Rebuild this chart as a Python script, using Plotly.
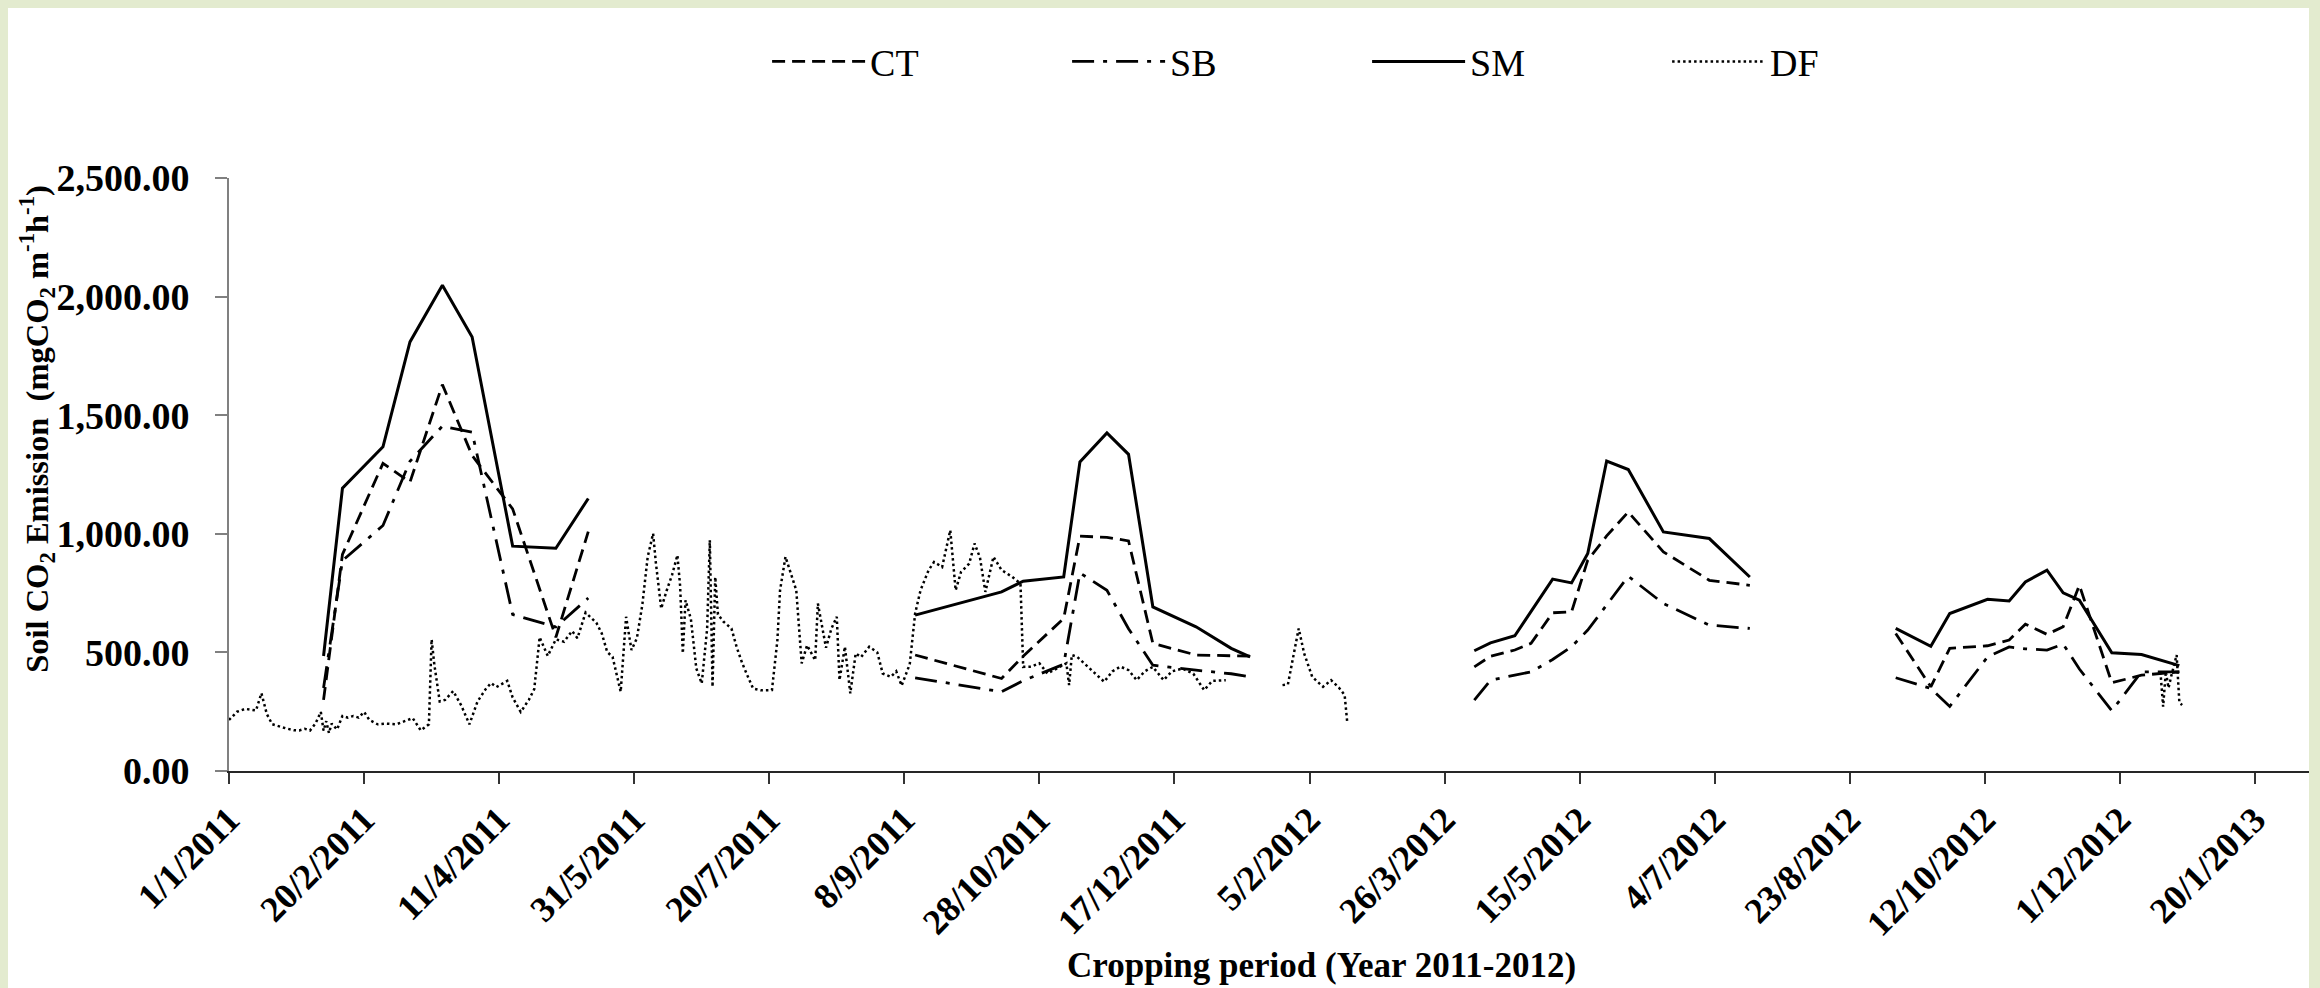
import plotly.graph_objects as go

# ---------------- data ----------------
# Season sampling dates shared by CT, SB and SM
s1_dates = ["2011-02-05", "2011-02-12", "2011-02-27", "2011-03-09", "2011-03-21",
            "2011-04-01", "2011-04-16", "2011-05-02", "2011-05-14"]
s1_ct = [300, 913, 1297, 1218, 1629, 1330, 1105, 564, 1009]
s1_sb = [350, 887, 1035, 1306, 1454, 1428, 660, 607, 729]
s1_sm = [485, 1192, 1367, 1809, 2048, 1830, 948, 939, 1149]

s2_dates = ["2011-09-12", "2011-10-14", "2011-10-22", "2011-11-06", "2011-11-12",
            "2011-11-22", "2011-11-30", "2011-12-09", "2011-12-25", "2012-01-07",
            "2012-01-14"]
s2_ct = [489, 390, 484, 643, 990, 985, 970, 538, 489, 486, 484]
s2_sb = [393, 334, 381, 450, 835, 762, 600, 446, 425, 410, 397]
s2_sm = [657, 755, 800, 818, 1303, 1425, 1335, 692, 608, 517, 481]

s3_dates = ["2012-04-06", "2012-04-12", "2012-04-21", "2012-04-27", "2012-05-05",
            "2012-05-12", "2012-05-18", "2012-05-25", "2012-06-02", "2012-06-15",
            "2012-07-02", "2012-07-17"]
s3_ct = [439, 484, 510, 538, 667, 671, 889, 991, 1092, 924, 804, 783]
s3_sb = [299, 383, 404, 418, 470, 524, 594, 700, 821, 706, 615, 601]
s3_sm = [507, 540, 570, 672, 809, 793, 917, 1307, 1271, 1008, 980, 818]

s4_dates = ["2012-09-09", "2012-09-22", "2012-09-29", "2012-10-13", "2012-10-21",
            "2012-10-27", "2012-11-04", "2012-11-10", "2012-11-16", "2012-11-28",
            "2012-12-09", "2012-12-23"]
s4_ct = [580, 355, 517, 528, 552, 619, 576, 608, 783, 372, 404, 418]
s4_sb = [393, 348, 272, 481, 523, 515, 510, 535, 430, 254, 418, 418]
s4_sm = [601, 526, 664, 724, 717, 797, 847, 751, 720, 498, 491, 444]

# DF (daily record), None marks the breaks in the record
df_dates = [
    "2011-01-01", "2011-01-04", "2011-01-07", "2011-01-11", "2011-01-13", "2011-01-15",
    "2011-01-17", "2011-01-20", "2011-01-22", "2011-01-25", "2011-01-27", "2011-01-29",
    "2011-01-31", "2011-02-02", "2011-02-04", "2011-02-05", "2011-02-06", "2011-02-07",
    "2011-02-08", "2011-02-10", "2011-02-12", "2011-02-14", "2011-02-16", "2011-02-18",
    "2011-02-20", "2011-02-22", "2011-02-25", "2011-02-28", "2011-03-04", "2011-03-07",
    "2011-03-10", "2011-03-13", "2011-03-16", "2011-03-17", "2011-03-18", "2011-03-20",
    "2011-03-22", "2011-03-25", "2011-03-28", "2011-03-31", "2011-04-03", "2011-04-06",
    "2011-04-08", "2011-04-10", "2011-04-14", "2011-04-16", "2011-04-19", "2011-04-22",
    "2011-04-24", "2011-04-26", "2011-04-29", "2011-05-02", "2011-05-05", "2011-05-08",
    "2011-05-10", "2011-05-13", "2011-05-17", "2011-05-19", "2011-05-21", "2011-05-23",
    "2011-05-26", "2011-05-28", "2011-05-30", "2011-06-01", "2011-06-03", "2011-06-05",
    "2011-06-07", "2011-06-08", "2011-06-10", "2011-06-12", "2011-06-14", "2011-06-16",
    "2011-06-17", "2011-06-18", "2011-06-19", "2011-06-21", "2011-06-23", "2011-06-25",
    "2011-06-27", "2011-06-28", "2011-06-29", "2011-06-30", "2011-07-01", "2011-07-03",
    "2011-07-06", "2011-07-08", "2011-07-10", "2011-07-12", "2011-07-14", "2011-07-17",
    "2011-07-21", "2011-07-23", "2011-07-24", "2011-07-26", "2011-07-28", "2011-07-30",
    "2011-08-01", "2011-08-03", "2011-08-06", "2011-08-07", "2011-08-10", "2011-08-12",
    "2011-08-14", "2011-08-15", "2011-08-17", "2011-08-19", "2011-08-21", "2011-08-23",
    "2011-08-26", "2011-08-29", "2011-08-31", "2011-09-03", "2011-09-05", "2011-09-07",
    "2011-09-10", "2011-09-12", "2011-09-14", "2011-09-17", "2011-09-19", "2011-09-22",
    "2011-09-25", "2011-09-27", "2011-09-29", "2011-10-02", "2011-10-04", "2011-10-06",
    "2011-10-08", "2011-10-11", "2011-10-14", "2011-10-18", "2011-10-21", "2011-10-22",
    "2011-10-25", "2011-10-28", "2011-10-31", "2011-11-03", "2011-11-07", "2011-11-08",
    "2011-11-09", "2011-11-11", "2011-11-13", "2011-11-15", "2011-11-18", "2011-11-21",
    "2011-11-24", "2011-11-27", "2011-11-30", "2011-12-03", "2011-12-06", "2011-12-09",
    "2011-12-13", "2011-12-16", "2011-12-20", "2011-12-24", "2011-12-28", "2011-12-31",
    "2012-01-05", "2012-01-15", "2012-01-26", "2012-01-28", "2012-02-01", "2012-02-03",
    "2012-02-06", "2012-02-10", "2012-02-13", "2012-02-16", "2012-02-18", "2012-02-19",
    "2012-06-01", "2012-12-16", "2012-12-17", "2012-12-18", "2012-12-19", "2012-12-20",
    "2012-12-21", "2012-12-22", "2012-12-23", "2012-12-24",
]
df_values = [
    215, 250, 262, 255, 328, 240,
    197, 185, 180, 172, 171, 178,
    171, 200, 249, 170, 210, 160,
    200, 175, 232, 225, 232, 225,
    249, 215, 197, 200, 197, 210,
    223, 171, 197, 555, 450, 293,
    300, 337, 276, 197, 293, 345,
    371, 354, 380, 310, 249, 300,
    345, 564, 485, 555, 545, 590,
    560, 668, 625, 580, 502, 481,
    334, 650, 510, 560, 700, 903,
    1001, 880, 685, 760, 826, 910,
    780, 496, 720, 640, 432, 369,
    600, 973, 355, 818, 660, 630,
    601, 520, 454, 400, 348, 340,
    341, 550, 762, 903, 830, 762,
    454, 530, 467, 706, 520, 600,
    650, 383, 524, 327, 496, 480,
    524, 500, 411, 397, 420, 360,
    450, 664, 762, 847, 881, 860,
    1015, 762, 839, 874, 959, 900,
    755, 903, 847, 818, 790, 439,
    440, 454, 411, 430, 454, 362,
    489, 481, 460, 440, 410, 376,
    420, 440, 425, 383, 420, 439,
    383, 420, 432, 410, 341, 380,
    383, None, 362, 365, 601, 496,
    397, 355, 383, 350, 320, 201,
    None, 418, 271, 420, 350, 400,
    440, 489, 290, 278,
]

x_tick_dates = ["2011-01-01", "2011-02-20", "2011-04-11", "2011-05-31", "2011-07-20",
                "2011-09-08", "2011-10-28", "2011-12-17", "2012-02-05", "2012-03-26",
                "2012-05-15", "2012-07-04", "2012-08-23", "2012-10-12", "2012-12-01",
                "2013-01-20"]
x_tick_labels = ["1/1/2011", "20/2/2011", "11/4/2011", "31/5/2011", "20/7/2011",
                 "8/9/2011", "28/10/2011", "17/12/2011", "5/2/2012", "26/3/2012",
                 "15/5/2012", "4/7/2012", "23/8/2012", "12/10/2012", "1/12/2012",
                 "20/1/2013"]
y_tick_values = [0, 500, 1000, 1500, 2000, 2500]


def join_seasons(*parts):
    out = []
    for i, p in enumerate(parts):
        if i:
            out.append(None)
        out.extend(p)
    return out


season_x = join_seasons(s1_dates, s2_dates, s3_dates, s4_dates)
ct_y = join_seasons(s1_ct, s2_ct, s3_ct, s4_ct)
sb_y = join_seasons(s1_sb, s2_sb, s3_sb, s4_sb)
sm_y = join_seasons(s1_sm, s2_sm, s3_sm, s4_sm)

FONT = "Liberation Serif"

fig = go.Figure()
fig.add_trace(go.Scatter(x=season_x, y=ct_y, name="CT", mode="lines",
                         line=dict(color="black", width=2.8, dash="13px,7px")))
fig.add_trace(go.Scatter(x=season_x, y=sb_y, name="SB", mode="lines",
                         line=dict(color="black", width=2.8, dash="22px,9px,4px,9px")))
fig.add_trace(go.Scatter(x=season_x, y=sm_y, name="SM", mode="lines",
                         line=dict(color="black", width=3)))
fig.add_trace(go.Scatter(x=df_dates, y=df_values, name="DF", mode="lines",
                         line=dict(color="black", width=2.5, dash="2.5px,3px")))

# plot area: left 229, right 2309, top 178 (2500), bottom 771 (0)
fig.update_layout(
    width=2320, height=988,
    margin=dict(l=229, r=11, t=178, b=217, autoexpand=False),
    paper_bgcolor="#E3EBCF",
    plot_bgcolor="white",
    font=dict(family=FONT, color="black"),
    showlegend=True,
    legend=dict(orientation="h", x=0.2587, y=1.196, xanchor="left", yanchor="middle",
                font=dict(family=FONT, size=38, color="black"),
                itemwidth=93, entrywidth=192, entrywidthmode="pixels",
                bgcolor="rgba(0,0,0,0)", tracegroupgap=0),
    xaxis=dict(type="date", range=["2011-01-01", "2013-02-09"],
               tickmode="array", tickvals=x_tick_dates, ticktext=x_tick_labels,
               tickangle=-45, ticks="outside", ticklen=11, tickwidth=2,
               tickcolor="#333333", showline=True, linecolor="#262626", linewidth=2,
               showgrid=False, zeroline=False,
               tickfont=dict(family=FONT, size=36, color="black", weight="bold")),
    yaxis=dict(range=[0, 2500], tickmode="array", tickvals=y_tick_values,
               tickformat=",.2f", ticks="outside", ticklen=12, tickwidth=2,
               tickcolor="#808080", showline=True, linecolor="#808080", linewidth=2,
               showgrid=False, zeroline=False, ticklabelstandoff=18,
               tickfont=dict(family=FONT, size=38, color="black", weight="bold")),
    shapes=[dict(type="rect", xref="paper", yref="paper", x0=-0.10625, x1=1.0,
                 y0=-0.45, y1=1.2867, fillcolor="white", line=dict(width=0),
                 layer="below")],
    annotations=[
        dict(text="Soil CO<sub>2</sub> Emission \u00a0(mgCO<sub>2</sub> m<sup>-1</sup>h<sup>-1</sup>)",
             xref="paper", yref="paper", x=-0.0923, y=0.577, textangle=-90,
             xanchor="center", yanchor="middle", showarrow=False,
             font=dict(family=FONT, size=32.5, color="black", weight="bold")),
        dict(text="Cropping period (Year 2011-2012)", xref="paper", yref="paper",
             x=0.525, y=-0.3288, xanchor="center", yanchor="middle", showarrow=False,
             font=dict(family=FONT, size=35, color="black", weight="bold")),
    ],
)

fig.write_html("out.html")
